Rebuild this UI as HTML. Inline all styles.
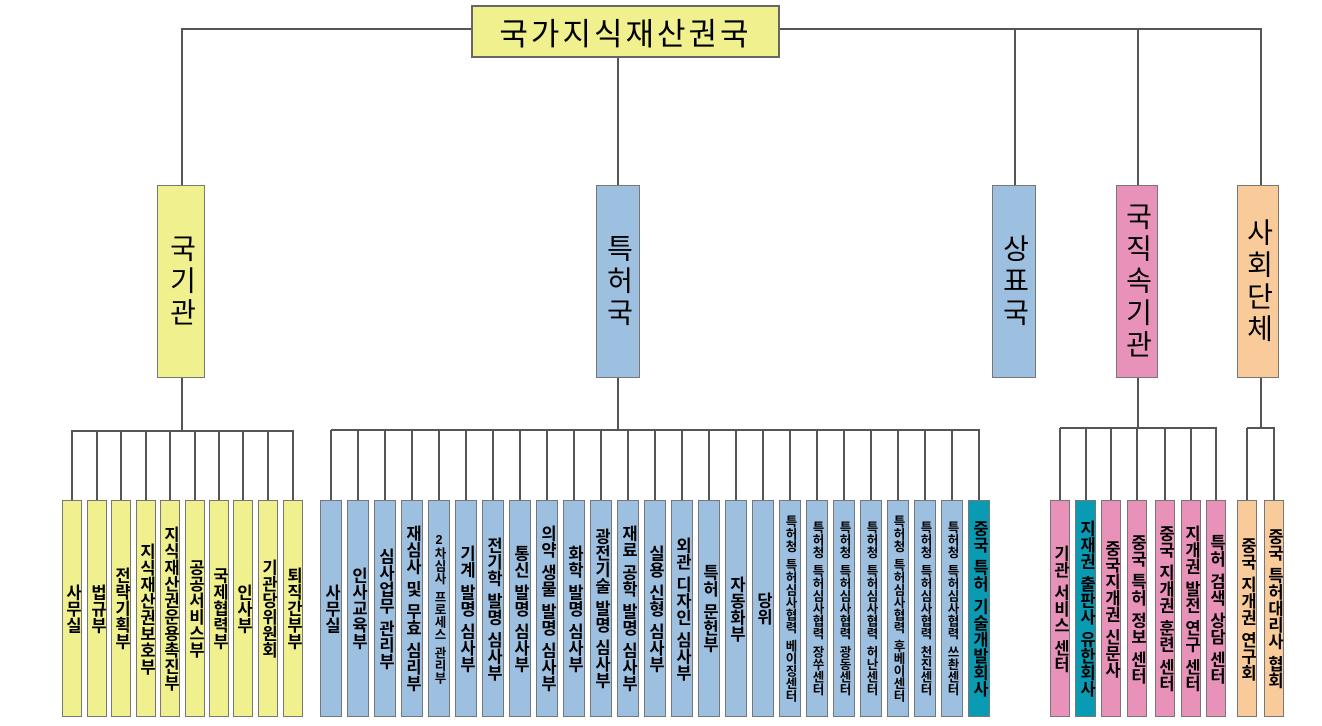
<!DOCTYPE html>
<html><head><meta charset="utf-8"><style>
body{margin:0;width:1322px;height:726px;background:#fff;position:relative;overflow:hidden;font-family:"Liberation Sans","Noto Sans CJK KR","NanumGothic",sans-serif;}
.l{position:absolute;background:#555;}
.b{position:absolute;box-sizing:border-box;border:1px solid #777;color:#000;font-weight:bold;}
.v{display:block;writing-mode:vertical-rl;text-orientation:upright;white-space:nowrap;text-align:center;}
i{display:inline-block;inline-size:6px;}
.y{background:#f0f08e;} .bl{background:#9dbfe0;} .t{background:#0a9bb4;} .p{background:#e892ba;} .o{background:#f9ca9a;}
.s{font-size:16.5px;top:500px;height:217px;line-height:20px;}
.xs{font-size:12.5px;}
.m{top:185px;height:193px;font-size:28px;font-weight:normal;letter-spacing:4px;}
</style></head><body>
<!-- top -->
<div class="l" style="left:181px;top:28px;width:1080px;height:2px"></div>
<div class="l" style="left:181px;top:28px;width:2px;height:157px"></div>
<div class="l" style="left:617px;top:28px;width:2px;height:157px"></div>
<div class="l" style="left:1014px;top:28px;width:2px;height:157px"></div>
<div class="l" style="left:1137px;top:28px;width:2px;height:157px"></div>
<div class="l" style="left:1260px;top:28px;width:2px;height:157px"></div>
<div class="b y" style="left:471px;top:5px;width:309px;height:53px;font-size:31px;font-weight:normal;letter-spacing:3px;border:2px solid #666;display:flex;align-items:center;justify-content:center">국가지식재산권국</div>
<div class="b y m v" style="left:157px;width:48px;line-height:46px">국기관</div>
<div class="b bl m v" style="left:596px;width:44px;line-height:42px">특허국</div>
<div class="b bl m v" style="left:992px;width:44px;line-height:42px">상표국</div>
<div class="b p m v" style="left:1116px;width:42px;line-height:40px">국직속기관</div>
<div class="b o m v" style="left:1237px;width:42px;line-height:40px">사회단체</div>
<!-- group connectors -->
<div class="l" style="left:181px;top:378px;width:2px;height:53px"></div>
<div class="l" style="left:72px;top:430px;width:222px;height:2px"></div>
<div class="l" style="left:617px;top:378px;width:2px;height:52px"></div>
<div class="l" style="left:331px;top:429px;width:649px;height:2px"></div>
<div class="l" style="left:1137px;top:378px;width:2px;height:50px"></div>
<div class="l" style="left:1060px;top:427px;width:157px;height:2px"></div>
<div class="l" style="left:1260px;top:378px;width:2px;height:50px"></div>
<div class="l" style="left:1247px;top:427px;width:28px;height:2px"></div>
<!-- yellow -->
<div class="l" style="left:71px;top:430px;width:2px;height:70px"></div><div class="b y s v" style="left:62px;width:20px;line-height:18px">사무실</div>
<div class="l" style="left:96px;top:430px;width:2px;height:70px"></div><div class="b y s v" style="left:87px;width:20px;line-height:18px">법규부</div>
<div class="l" style="left:120px;top:430px;width:2px;height:70px"></div><div class="b y s v" style="left:111px;width:20px;line-height:18px">전략기획부</div>
<div class="l" style="left:145px;top:430px;width:2px;height:70px"></div><div class="b y s v" style="left:136px;width:20px;line-height:18px">지식재산권보호부</div>
<div class="l" style="left:169px;top:430px;width:2px;height:70px"></div><div class="b y s v" style="left:160px;width:20px;line-height:18px">지식재산권운용촉진부</div>
<div class="l" style="left:194px;top:430px;width:2px;height:70px"></div><div class="b y s v" style="left:185px;width:20px;line-height:18px">공공서비스부</div>
<div class="l" style="left:218px;top:430px;width:2px;height:70px"></div><div class="b y s v" style="left:209px;width:20px;line-height:18px">국제협력부</div>
<div class="l" style="left:242px;top:430px;width:2px;height:70px"></div><div class="b y s v" style="left:233px;width:20px;line-height:18px">인사부</div>
<div class="l" style="left:267px;top:430px;width:2px;height:70px"></div><div class="b y s v" style="left:258px;width:20px;line-height:18px">기관당위원회</div>
<div class="l" style="left:292px;top:430px;width:2px;height:70px"></div><div class="b y s v" style="left:283px;width:20px;line-height:18px">퇴직간부부</div>
<!-- blue -->
<div class="l" style="left:330px;top:430px;width:2px;height:70px"></div><div class="b bl s v" style="left:320px;width:22px">사무실</div>
<div class="l" style="left:357px;top:430px;width:2px;height:70px"></div><div class="b bl s v" style="left:347px;width:22px">인사교육부</div>
<div class="l" style="left:384px;top:430px;width:2px;height:70px"></div><div class="b bl s v" style="left:374px;width:22px">심사업무<i></i>관리부</div>
<div class="l" style="left:411px;top:430px;width:2px;height:70px"></div><div class="b bl s v" style="left:401px;width:22px">재심사<i></i>및<i></i>무효<i></i>심리부</div>
<div class="l" style="left:438px;top:430px;width:2px;height:70px"></div><div class="b bl s v xs" style="left:428px;width:22px">2차심사<i></i>프로세스<i></i>관리부</div>
<div class="l" style="left:465px;top:430px;width:2px;height:70px"></div><div class="b bl s v" style="left:455px;width:22px">기계<i></i>발명<i></i>심사부</div>
<div class="l" style="left:492px;top:430px;width:2px;height:70px"></div><div class="b bl s v" style="left:482px;width:22px">전기학<i></i>발명<i></i>심사부</div>
<div class="l" style="left:519px;top:430px;width:2px;height:70px"></div><div class="b bl s v" style="left:509px;width:22px">통신<i></i>발명<i></i>심사부</div>
<div class="l" style="left:546px;top:430px;width:2px;height:70px"></div><div class="b bl s v" style="left:536px;width:22px">의약<i></i>생물<i></i>발명<i></i>심사부</div>
<div class="l" style="left:573px;top:430px;width:2px;height:70px"></div><div class="b bl s v" style="left:563px;width:22px">화학<i></i>발명<i></i>심사부</div>
<div class="l" style="left:600px;top:430px;width:2px;height:70px"></div><div class="b bl s v" style="left:590px;width:22px">광전기술<i></i>발명<i></i>심사부</div>
<div class="l" style="left:627px;top:430px;width:2px;height:70px"></div><div class="b bl s v" style="left:617px;width:22px">재료<i></i>공학<i></i>발명<i></i>심사부</div>
<div class="l" style="left:654px;top:430px;width:2px;height:70px"></div><div class="b bl s v" style="left:644px;width:22px">실용<i></i>신형<i></i>심사부</div>
<div class="l" style="left:681px;top:430px;width:2px;height:70px"></div><div class="b bl s v" style="left:671px;width:22px">외관<i></i>디자인<i></i>심사부</div>
<div class="l" style="left:708px;top:430px;width:2px;height:70px"></div><div class="b bl s v" style="left:698px;width:22px">특허<i></i>문헌부</div>
<div class="l" style="left:735px;top:430px;width:2px;height:70px"></div><div class="b bl s v" style="left:725px;width:22px">자동화부</div>
<div class="l" style="left:762px;top:430px;width:2px;height:70px"></div><div class="b bl s v" style="left:752px;width:22px">당위</div>
<div class="l" style="left:789px;top:430px;width:2px;height:70px"></div><div class="b bl s v xs" style="left:779px;width:22px">특허청<i></i>특허심사협력<i></i>베이징센터</div>
<div class="l" style="left:816px;top:430px;width:2px;height:70px"></div><div class="b bl s v xs" style="left:806px;width:22px">특허청<i></i>특허심사협력<i></i>장쑤센터</div>
<div class="l" style="left:843px;top:430px;width:2px;height:70px"></div><div class="b bl s v xs" style="left:833px;width:22px">특허청<i></i>특허심사협력<i></i>광동센터</div>
<div class="l" style="left:870px;top:430px;width:2px;height:70px"></div><div class="b bl s v xs" style="left:860px;width:22px">특허청<i></i>특허심사협력<i></i>허난센터</div>
<div class="l" style="left:897px;top:430px;width:2px;height:70px"></div><div class="b bl s v xs" style="left:887px;width:22px">특허청<i></i>특허심사협력<i></i>후베이센터</div>
<div class="l" style="left:924px;top:430px;width:2px;height:70px"></div><div class="b bl s v xs" style="left:914px;width:22px">특허청<i></i>특허심사협력<i></i>천진센터</div>
<div class="l" style="left:951px;top:430px;width:2px;height:70px"></div><div class="b bl s v xs" style="left:941px;width:22px">특허청<i></i>특허심사협력<i></i>쓰촨센터</div>
<div class="l" style="left:978px;top:430px;width:2px;height:70px"></div><div class="b t s v" style="left:968px;width:22px">중국<i></i>특허<i></i>기술개발회사</div>
<!-- pink -->
<div class="l" style="left:1059px;top:428px;width:2px;height:72px"></div><div class="b p s v" style="left:1050px;width:20px;line-height:18px">기관<i></i>서비스<i></i>센터</div>
<div class="l" style="left:1085px;top:428px;width:2px;height:72px"></div><div class="b t s v" style="left:1075px;width:21px;line-height:19px">지재권<i></i>출판사<i></i>유한회사</div>
<div class="l" style="left:1110px;top:428px;width:2px;height:72px"></div><div class="b p s v" style="left:1101px;width:20px;line-height:18px">중국지개권<i></i>신문사</div>
<div class="l" style="left:1136px;top:428px;width:2px;height:72px"></div><div class="b p s v" style="left:1127px;width:20px;line-height:18px">중국<i></i>특허<i></i>정보<i></i>센터</div>
<div class="l" style="left:1164px;top:428px;width:2px;height:72px"></div><div class="b p s v" style="left:1155px;width:20px;line-height:18px">중국<i></i>지개권<i></i>훈련<i></i>센터</div>
<div class="l" style="left:1190px;top:428px;width:2px;height:72px"></div><div class="b p s v" style="left:1181px;width:20px;line-height:18px">지개권<i></i>발전<i></i>연구<i></i>센터</div>
<div class="l" style="left:1215px;top:428px;width:2px;height:72px"></div><div class="b p s v" style="left:1206px;width:20px;line-height:18px">특허<i></i>검색<i></i>상담<i></i>센터</div>
<!-- orange -->
<div class="l" style="left:1246px;top:428px;width:2px;height:72px"></div><div class="b o s v" style="left:1237px;width:20px;line-height:18px">중국<i></i>지개권<i></i>연구회</div>
<div class="l" style="left:1273px;top:428px;width:2px;height:72px"></div><div class="b o s v" style="left:1264px;width:20px;line-height:18px">중국<i></i>특허대리사<i></i>협회</div>
</body></html>
